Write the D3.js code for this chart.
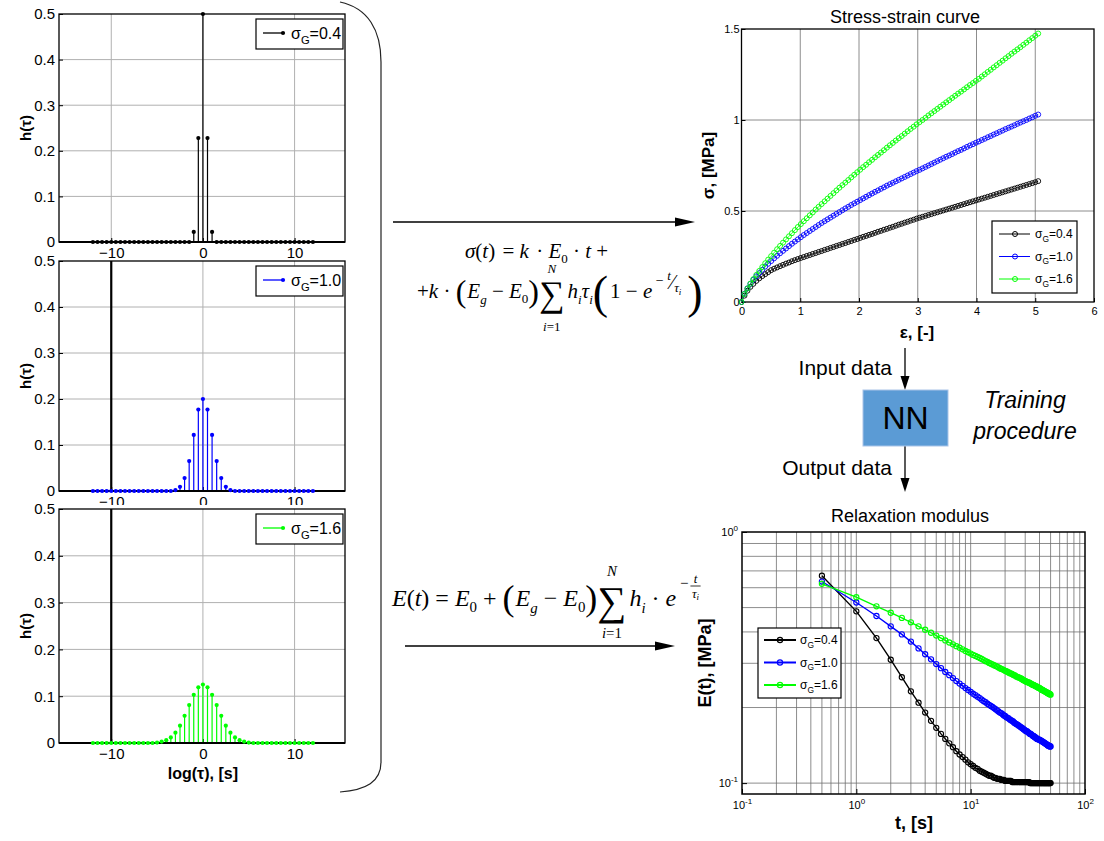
<!DOCTYPE html>
<html>
<head>
<meta charset="utf-8">
<script src="https://cdn.jsdelivr.net/npm/d3@7"></script>
<style>
  body { margin: 0; background: #fff; }
  svg { font-family: Arial, "Liberation Sans", sans-serif; }
</style>
</head>
<body>
<svg id="fig" width="1104" height="841"></svg>
<script>
// ---------- data ----------
// relaxation spectra h(tau) on log(tau) = -12 ... 12, step 0.5
const logTau = d3.range(-12, 12.25, 0.5);
const h04 = [0,0,0,0,0,0,0,0,0,0,0,0,0,0,0,0,0,0,0,0,0,0,
  0.022,0.228,0.5,0.228,0.022,
  0,0,0,0,0,0,0,0,0,0,0,0,0,0,0,0,0,0,0,0,0,0];
const h10 = [0,0,0,0,0,0,0,0,0,0,0,0,0,0,0,0,0,0,
  0.002,0.009,0.028,0.065,0.122,0.177,0.200,0.177,0.122,0.065,0.028,0.009,0.002,
  0,0,0,0,0,0,0,0,0,0,0,0,0,0,0,0,0,0];
const h16 = [0,0,0,0,0,0,0,0,0,0,0,0,0,0,
  0.001,0.003,0.006,0.012,0.022,0.037,0.058,0.081,0.103,0.119,0.125,
  0.119,0.103,0.081,0.058,0.037,0.022,0.012,0.006,0.003,0.001,
  0,0,0,0,0,0,0,0,0,0,0,0,0,0];

const sigmaNames = ["0.4", "1.0", "1.6"];
const seriesColors = ["#000000", "#0000ff", "#00ff00"];

// stress-strain curves, strain 0 ... 5.05
const strain = d3.range(101).map(i => +(i * 0.0505).toFixed(4));
const stress04 = [0,0.035,0.062,0.083,0.100,0.116,0.130,0.142,0.153,0.164,
  0.175,0.183,0.190,0.197,0.204,0.211,0.217,0.224,0.230,0.236,
  0.242,0.247,0.253,0.258,0.264,0.269,0.275,0.280,0.286,0.291,
  0.297,0.302,0.308,0.313,0.319,0.324,0.330,0.335,0.341,0.346,
  0.352,0.358,0.363,0.369,0.374,0.380,0.386,0.391,0.397,0.402,
  0.408,0.413,0.419,0.425,0.430,0.436,0.441,0.447,0.452,0.458,
  0.463,0.468,0.473,0.478,0.483,0.488,0.493,0.498,0.503,0.508,
  0.513,0.518,0.523,0.528,0.533,0.538,0.543,0.548,0.553,0.558,
  0.563,0.568,0.573,0.578,0.583,0.588,0.593,0.598,0.603,0.608,
  0.613,0.618,0.623,0.628,0.633,0.638,0.643,0.648,0.653,0.658,0.664];
const stress10 = [0,0.045,0.075,0.100,0.122,0.141,0.159,0.177,0.195,0.210,
  0.225,0.240,0.254,0.268,0.281,0.294,0.307,0.320,0.332,0.344,
  0.356,0.368,0.379,0.390,0.401,0.412,0.423,0.434,0.444,0.454,
  0.464,0.474,0.484,0.494,0.504,0.514,0.523,0.533,0.542,0.551,
  0.560,0.569,0.578,0.587,0.596,0.605,0.613,0.622,0.630,0.639,
  0.647,0.655,0.663,0.671,0.679,0.687,0.695,0.703,0.711,0.719,
  0.726,0.734,0.742,0.750,0.758,0.766,0.774,0.782,0.790,0.798,
  0.805,0.813,0.821,0.829,0.836,0.844,0.852,0.860,0.867,0.875,
  0.882,0.890,0.897,0.905,0.912,0.920,0.927,0.935,0.942,0.950,
  0.957,0.964,0.971,0.979,0.986,0.993,1.000,1.008,1.015,1.023,1.030];
const stress16 = [0,0.044,0.074,0.101,0.126,0.149,0.171,0.192,0.213,0.233,
  0.252,0.271,0.290,0.308,0.326,0.344,0.361,0.378,0.395,0.412,
  0.428,0.444,0.460,0.476,0.492,0.508,0.523,0.538,0.553,0.568,
  0.583,0.598,0.613,0.628,0.642,0.656,0.670,0.685,0.699,0.713,
  0.727,0.741,0.754,0.768,0.781,0.795,0.808,0.821,0.834,0.848,
  0.861,0.874,0.887,0.900,0.912,0.925,0.938,0.951,0.963,0.976,
  0.988,1.000,1.012,1.025,1.037,1.049,1.061,1.073,1.085,1.097,
  1.109,1.121,1.133,1.145,1.156,1.168,1.180,1.192,1.203,1.215,
  1.226,1.239,1.251,1.264,1.276,1.289,1.301,1.314,1.326,1.339,
  1.351,1.364,1.376,1.388,1.400,1.413,1.425,1.438,1.450,1.463,1.475];

// relaxation modulus, t = 0.5 ... 50 s, step 0.5
const time = d3.range(1, 101).map(i => i * 0.5);
const E04 = [0.670,0.483,0.378,0.310,0.264,0.232,0.209,0.191,0.177,0.166,
  0.157,0.150,0.144,0.139,0.134,0.130,0.127,0.124,0.121,0.119,
  0.117,0.115,0.114,0.112,0.111,0.110,0.109,0.108,0.107,0.107,
  0.106,0.105,0.105,0.104,0.104,0.104,0.103,0.103,0.103,0.102,
  0.102,0.102,0.102,0.102,0.102,0.101,0.101,0.101,0.101,0.101,
  0.101,0.101,0.101,0.101,0.101,0.101,0.101,0.101,0.101,0.101,
  0.101,0.101,0.101,0.101,0.101,0.100,0.100,0.100,0.100,0.100,
  0.100,0.100,0.100,0.100,0.100,0.100,0.100,0.100,0.100,0.100,
  0.100,0.100,0.100,0.100,0.100,0.100,0.100,0.100,0.100,0.100,
  0.100,0.100,0.100,0.100,0.100,0.100,0.100,0.100,0.100,0.100];
const E10 = [0.635,0.524,0.463,0.421,0.391,0.366,0.344,0.326,0.311,0.298,
  0.287,0.277,0.269,0.262,0.255,0.249,0.244,0.239,0.235,0.231,
  0.227,0.224,0.221,0.218,0.215,0.212,0.210,0.207,0.205,0.203,
  0.201,0.199,0.197,0.195,0.193,0.191,0.190,0.188,0.186,0.185,
  0.183,0.182,0.181,0.179,0.178,0.177,0.176,0.174,0.173,0.172,
  0.171,0.170,0.169,0.168,0.167,0.166,0.165,0.164,0.163,0.162,
  0.161,0.161,0.160,0.159,0.158,0.157,0.157,0.156,0.155,0.154,
  0.154,0.153,0.152,0.152,0.151,0.150,0.150,0.149,0.149,0.149,
  0.148,0.148,0.147,0.147,0.146,0.146,0.145,0.145,0.144,0.144,
  0.143,0.143,0.142,0.142,0.141,0.141,0.141,0.140,0.140,0.140];
const E16 = [0.622,0.550,0.506,0.477,0.455,0.437,0.421,0.408,0.397,0.387,
  0.378,0.370,0.363,0.357,0.351,0.346,0.341,0.336,0.332,0.328,
  0.324,0.321,0.318,0.315,0.312,0.309,0.306,0.304,0.301,0.299,
  0.297,0.295,0.293,0.291,0.289,0.287,0.285,0.284,0.282,0.280,
  0.279,0.277,0.276,0.274,0.273,0.272,0.270,0.269,0.268,0.266,
  0.265,0.264,0.263,0.262,0.261,0.260,0.258,0.257,0.256,0.255,
  0.254,0.253,0.252,0.252,0.251,0.250,0.249,0.248,0.247,0.246,
  0.246,0.245,0.244,0.243,0.243,0.242,0.241,0.240,0.240,0.239,
  0.238,0.237,0.236,0.235,0.235,0.234,0.233,0.233,0.232,0.231,
  0.231,0.230,0.229,0.229,0.228,0.227,0.227,0.226,0.226,0.225];

const hTicks = [0, 0.1, 0.2, 0.3, 0.4, 0.5];
const logTauTicks = [-10, 0, 10];

// ---------- drawing ----------
const svg = d3.select("#fig");

function sigmaText(sel, name, size) {
  sel.append("tspan").text("σ");
  sel.append("tspan").attr("font-size", size * 0.7).attr("dy", size * 0.3).text("G");
  sel.append("tspan").attr("dy", -size * 0.3).text("=" + name);
}

// ----- left column: stem plots -----
const stemLeft = 59, stemRight = 345;
const stemX = d3.scaleLinear().domain([-15.7, 15.5]).range([stemLeft, stemRight]);

function stemPanel(values, idx, top, bottom, bgTop, wall, xLabel) {
  const color = seriesColors[idx];
  const g = svg.append("g");
  g.append("rect").attr("x", 0).attr("y", bgTop).attr("width", 352).attr("height", bottom - bgTop + 30).attr("fill", "#fff");
  const y = d3.scaleLinear().domain([0, 0.5]).range([bottom, top]);

  g.selectAll(".gx").data(logTauTicks).join("line")
    .attr("x1", d => stemX(d)).attr("x2", d => stemX(d)).attr("y1", top).attr("y2", bottom)
    .attr("stroke", "#b0b0b0").attr("stroke-width", 1);
  g.selectAll(".gy").data(hTicks.slice(1, 5)).join("line")
    .attr("x1", stemLeft).attr("x2", stemRight).attr("y1", d => y(d)).attr("y2", d => y(d))
    .attr("stroke", "#b0b0b0").attr("stroke-width", 1);

  const ya = g.append("g").attr("transform", `translate(${stemLeft},0)`)
    .call(d3.axisLeft(y).tickValues(hTicks).tickFormat(d => d === 0 ? "0" : d.toFixed(1))
      .tickSizeInner(-4).tickSizeOuter(0).tickPadding(4));
  const xa = g.append("g").attr("transform", `translate(0,${bottom})`)
    .call(d3.axisBottom(stemX).tickValues(logTauTicks).tickSizeInner(-4).tickSizeOuter(0).tickPadding(5));
  [ya, xa].forEach(a => {
    a.select(".domain").remove();
    a.selectAll("text").attr("font-size", 15).attr("fill", "#000").attr("font-family", "Arial, Liberation Sans, sans-serif");
    a.selectAll("line").attr("stroke", "#000");
  });

  g.append("rect").attr("x", stemLeft).attr("y", top).attr("width", stemRight - stemLeft).attr("height", bottom - top)
    .attr("fill", "none").attr("stroke", "#000").attr("stroke-width", 1.3);

  if (wall) {
    g.append("line").attr("x1", stemX(-10)).attr("x2", stemX(-10)).attr("y1", y(0)).attr("y2", y(0.5))
      .attr("stroke", "#000").attr("stroke-width", 2.2);
  }

  const pts = logTau.map((d, i) => ({ x: d, h: values[i] }));
  g.selectAll(".stem").data(pts).join("line")
    .attr("x1", d => stemX(d.x)).attr("x2", d => stemX(d.x)).attr("y1", y(0)).attr("y2", d => y(d.h))
    .attr("stroke", color).attr("stroke-width", 1.2);
  g.append("line").attr("x1", stemLeft).attr("x2", stemRight).attr("y1", y(0)).attr("y2", y(0))
    .attr("stroke", "#000").attr("stroke-width", 2.2);
  g.selectAll(".dot").data(pts).join("circle")
    .attr("cx", d => stemX(d.x)).attr("cy", d => y(d.h)).attr("r", 2.1).attr("fill", color);

  // legend
  const lg = g.append("g").attr("transform", `translate(256,${top + 5})`);
  lg.append("rect").attr("width", 87).attr("height", 30).attr("fill", "#fff").attr("stroke", "#000").attr("stroke-width", 1.2);
  lg.append("line").attr("x1", 7).attr("x2", 27).attr("y1", 14).attr("y2", 14).attr("stroke", color).attr("stroke-width", 1.3);
  lg.append("circle").attr("cx", 27).attr("cy", 14).attr("r", 2.1).attr("fill", color);
  lg.append("text").attr("x", 35).attr("y", 20).attr("font-size", 16).call(sigmaText, sigmaNames[idx], 16);

  g.append("text").attr("transform", `translate(31,${(top + bottom) / 2}) rotate(-90)`)
    .attr("text-anchor", "middle").attr("font-size", 15).attr("font-weight", "bold").text("h(τ)");

  if (xLabel) {
    g.append("text").attr("x", stemX(0)).attr("y", bottom + 36).attr("text-anchor", "middle")
      .attr("font-size", 16).attr("font-weight", "bold").text(xLabel);
  }
}

stemPanel(h04, 0, 14, 242, 0, false, null);
stemPanel(h10, 1, 261, 491, 258, true, null);
stemPanel(h16, 2, 509, 743, 505, true, "log(τ), [s]");

// big bracket
svg.append("path")
  .attr("d", "M340,2 C368,8 381,30 381,62 L381,762 C381,782 366,790 340,792")
  .attr("fill", "none").attr("stroke", "#222").attr("stroke-width", 1.2);

// ----- arrows -----
function arrow(x1, y1, x2, y2, head, w) {
  const g = svg.append("g");
  const ang = Math.atan2(y2 - y1, x2 - x1);
  const bx = x2 - head * Math.cos(ang), by = y2 - head * Math.sin(ang);
  g.append("line").attr("x1", x1).attr("y1", y1).attr("x2", bx).attr("y2", by)
    .attr("stroke", "#000").attr("stroke-width", 1.3);
  const px = -Math.sin(ang) * w, py = Math.cos(ang) * w;
  g.append("path").attr("d", `M${x2},${y2} L${bx + px},${by + py} L${bx - px},${by - py} Z`).attr("fill", "#000");
}
arrow(393, 222, 695, 222, 20, 4.5);
arrow(405, 646, 675, 646, 20, 4.5);
arrow(905, 348, 905, 390, 14, 4.5);
arrow(905, 446, 905, 492, 14, 4.5);

// ----- equations -----
const serif = "'Liberation Serif', 'Times New Roman', serif";
const NB = "\u00a0";
function eqRow(x0, base, fs, parts) {
  const g = svg.append("g").attr("font-family", serif).attr("fill", "#000");
  let x = x0;
  parts.forEach(p => {
    if (p.sum) {
      const t = g.append("text").attr("x", x).attr("y", base + fs * 0.38).attr("font-size", fs * 1.7).text("∑");
      const w = t.node().getComputedTextLength();
      g.append("text").attr("x", x + w / 2).attr("y", base - fs * p.up).attr("text-anchor", "middle")
        .attr("font-size", fs * 0.62).attr("font-style", "italic").text("N");
      const lo = g.append("text").attr("x", x + w / 2).attr("y", base + fs * p.down).attr("text-anchor", "middle").attr("font-size", fs * 0.62);
      lo.append("tspan").attr("font-style", "italic").text("i");
      lo.append("tspan").text("=1");
      x += w + 3;
      return;
    }
    if (p.frac) {
      const top = g.append("text").attr("x", x).attr("y", base - 23).attr("font-size", 13).attr("font-style", "italic").text(p.num);
      const w1 = top.node().getComputedTextLength();
      const bot = g.append("text").attr("x", x).attr("y", base - 8).attr("font-size", 13).attr("font-style", "italic");
      bot.append("tspan").text(p.den);
      bot.append("tspan").attr("font-size", 9).attr("dy", 2).text("i");
      const w2 = bot.node().getComputedTextLength();
      const w = Math.max(w1, w2) + 3;
      top.attr("x", x + (w - w1) / 2);
      bot.attr("x", x + (w - w2) / 2);
      g.append("line").attr("x1", x).attr("x2", x + w).attr("y1", base - 20).attr("y2", base - 20)
        .attr("stroke", "#000").attr("stroke-width", 0.8);
      x += w;
      return;
    }
    const t = g.append("text").attr("x", x + (p.pre || 0)).attr("y", base + (p.dy || 0)).attr("font-size", p.size || fs)
      .attr("font-style", p.it ? "italic" : "normal").text(p.s.replace(/ /g, NB));
    x += (p.pre || 0) + t.node().getComputedTextLength() + (p.gap || 0);
  });
  return x - x0;
}
const sub = (s, f) => ({ s, size: f * 0.62, dy: f * 0.25 });
const isub = (s, f) => ({ s, size: f * 0.62, dy: f * 0.3, it: true });

eqRow(465, 258, 21, [
  { s: "σ", it: true }, { s: "(" }, { s: "t", it: true }, { s: ")", gap: 2 }, { s: " = " }, { s: "k", it: true, gap: 2 }, { s: " · " },
  { s: "E", it: true }, sub("0", 21), { s: " · " }, { s: "t", it: true }, { s: " +" }
]);
eqRow(417, 298, 21, [
  { s: "+" }, { s: "k", it: true }, { s: " · " }, { s: "(", size: 32, dy: 4, gap: 1 }, { s: "E", it: true }, isub("g", 21),
  { s: " − " }, { s: "E", it: true }, sub("0", 21), { s: ")", size: 32, dy: 4 }, { sum: true, up: 1.2, down: 1.55 },
  { s: "h", it: true }, isub("i", 21), { s: "τ", it: true }, isub("i", 21), { s: "(", size: 46, dy: 10, gap: 2 }, { s: "1 − " },
  { s: "e", it: true }, { s: " − ", size: 14, dy: -13 }, { s: "t", it: true, size: 13, dy: -18 },
  { s: "⁄", size: 20, dy: -9 }, { s: "τ", it: true, size: 13, dy: -6 }, { s: "i", it: true, size: 9, dy: -3, gap: 6 },
  { s: ")", size: 46, dy: 10 }
]);
eqRow(392, 606, 24, [
  { s: "E", it: true }, { s: "(" }, { s: "t", it: true }, { s: ")" }, { s: " = " }, { s: "E", it: true }, sub("0", 24), { s: " + " },
  { s: "(", size: 36, dy: 4, gap: 1 }, { s: "E", it: true }, isub("g", 24), { s: " − " }, { s: "E", it: true }, sub("0", 24),
  { s: ")", size: 36, dy: 4 }, { sum: true, up: 1.24, down: 1.35 }, { s: "h", it: true }, isub("i", 24), { s: " · " },
  { s: "e", it: true }, { s: " −", size: 15, dy: -18, gap: 2 }, { frac: true, num: "t", den: "τ" }
]);

// ----- stress-strain plot -----
const sL = 741.5, sR = 1094, sT = 29, sB = 302;
const sx = d3.scaleLinear().domain([0, 6]).range([sL, sR]);
const sy = d3.scaleLinear().domain([0, 1.5]).range([sB, sT]);
const sg = svg.append("g");
sg.selectAll(".gx").data([1, 2, 3, 4, 5]).join("line")
  .attr("x1", d => sx(d)).attr("x2", d => sx(d)).attr("y1", sT).attr("y2", sB).attr("stroke", "#707070").attr("stroke-width", 0.8);
sg.selectAll(".gy").data([0.5, 1]).join("line")
  .attr("x1", sL).attr("x2", sR).attr("y1", d => sy(d)).attr("y2", d => sy(d)).attr("stroke", "#707070").attr("stroke-width", 0.8);
const sxa = sg.append("g").attr("transform", `translate(0,${sB})`)
  .call(d3.axisBottom(sx).tickValues([0, 1, 2, 3, 4, 5, 6]).tickFormat(d3.format("d")).tickSizeInner(-4).tickSizeOuter(0).tickPadding(5));
const sya = sg.append("g").attr("transform", `translate(${sL},0)`)
  .call(d3.axisLeft(sy).tickValues([0, 0.5, 1, 1.5]).tickFormat(d3.format("~g")).tickSizeInner(-4).tickSizeOuter(0).tickPadding(2));
[sxa, sya].forEach(a => {
  a.select(".domain").remove();
  a.selectAll("text").attr("font-size", 11).attr("fill", "#000");
  a.selectAll("line").attr("stroke", "#000");
});
sg.append("rect").attr("x", sL).attr("y", sT).attr("width", sR - sL).attr("height", sB - sT)
  .attr("fill", "none").attr("stroke", "#000").attr("stroke-width", 1.3);

const stressSeries = [stress04, stress10, stress16];
stressSeries.forEach((vals, k) => {
  const pts = strain.map((e, i) => [e, vals[i]]);
  sg.append("path").datum(pts).attr("fill", "none").attr("stroke", seriesColors[k]).attr("stroke-width", 0.8)
    .attr("d", d3.line().x(d => sx(d[0])).y(d => sy(d[1])));
  sg.append("g").selectAll("circle").data(pts).join("circle")
    .attr("cx", d => sx(d[0])).attr("cy", d => sy(d[1])).attr("r", 2.5)
    .attr("fill", "none").attr("stroke", seriesColors[k]).attr("stroke-width", 0.9);
});
sg.append("text").attr("x", 905).attr("y", 23).attr("text-anchor", "middle").attr("font-size", 18).text("Stress-strain curve");
sg.append("text").attr("x", 917).attr("y", 338).attr("text-anchor", "middle").attr("font-size", 17).attr("font-weight", "bold").text("ε, [-]");
sg.append("text").attr("transform", `translate(714,${(sT + sB) / 2}) rotate(-90)`).attr("text-anchor", "middle")
  .attr("font-size", 17).attr("font-weight", "bold").text("σ, [MPa]");

const sLeg = sg.append("g").attr("transform", "translate(992,221)");
sLeg.append("rect").attr("width", 85).attr("height", 72).attr("fill", "#fff").attr("stroke", "#000").attr("stroke-width", 1.2);
sigmaNames.forEach((n, k) => {
  const yy = 13 + k * 22.5;
  sLeg.append("line").attr("x1", 7).attr("x2", 38).attr("y1", yy).attr("y2", yy).attr("stroke", seriesColors[k]).attr("stroke-width", 1);
  sLeg.append("circle").attr("cx", 23).attr("cy", yy).attr("r", 2.5).attr("fill", "none").attr("stroke", seriesColors[k]);
  sLeg.append("text").attr("x", 43).attr("y", yy + 4).attr("font-size", 12).call(sigmaText, n, 12);
});

// ----- NN block -----
svg.append("rect").attr("x", 863).attr("y", 390).attr("width", 85).attr("height", 56)
  .attr("fill", "#5b9bd5").attr("stroke", "#a9c4e8").attr("stroke-width", 1);
svg.append("text").attr("x", 905.5).attr("y", 429).attr("text-anchor", "middle").attr("font-size", 32).text("NN");
svg.append("text").attr("x", 892).attr("y", 375).attr("text-anchor", "end").attr("font-size", 21).text("Input data");
svg.append("text").attr("x", 892).attr("y", 475).attr("text-anchor", "end").attr("font-size", 21).text("Output data");
svg.append("text").attr("x", 1025).attr("y", 408).attr("text-anchor", "middle").attr("font-size", 23).attr("font-style", "italic").text("Training");
svg.append("text").attr("x", 1025).attr("y", 439).attr("text-anchor", "middle").attr("font-size", 23).attr("font-style", "italic").text("procedure");

// ----- relaxation modulus plot -----
const rL = 742, rR = 1085, rT = 532, rB = 794;
const rx = d3.scaleLog().domain([0.1, 100]).range([rL, rR]);
const ry = d3.scaleLog().domain([0.0905, 1]).range([rB, rT]);
const rg = svg.append("g");
const xGrid = [0.2, 0.3, 0.4, 0.5, 0.6, 0.7, 0.8, 0.9, 1, 2, 3, 4, 5, 6, 7, 8, 9, 10, 20, 30, 40, 50, 60, 70, 80, 90];
const yGrid = [0.1, 0.2, 0.3, 0.4, 0.5, 0.6, 0.7, 0.8, 0.9];
rg.selectAll(".gx").data(xGrid).join("line")
  .attr("x1", d => rx(d)).attr("x2", d => rx(d)).attr("y1", rT).attr("y2", rB).attr("stroke", "#707070").attr("stroke-width", 0.8);
rg.selectAll(".gy").data(yGrid).join("line")
  .attr("x1", rL).attr("x2", rR).attr("y1", d => ry(d)).attr("y2", d => ry(d)).attr("stroke", "#707070").attr("stroke-width", 0.8);
const rxa = rg.append("g").attr("transform", `translate(0,${rB})`)
  .call(d3.axisBottom(rx).tickValues([0.1, 1, 10, 100]).tickSizeInner(-5).tickSizeOuter(0).tickPadding(7));
const rya = rg.append("g").attr("transform", `translate(${rL},0)`)
  .call(d3.axisLeft(ry).tickValues([0.1, 1]).tickSizeInner(-5).tickSizeOuter(0).tickPadding(4));
[rxa, rya].forEach(a => {
  a.select(".domain").remove();
  a.selectAll("line").attr("stroke", "#000");
  a.selectAll("text").attr("font-size", 11).attr("fill", "#000").each(function (d) {
    const t = d3.select(this);
    t.text("10");
    t.append("tspan").attr("font-size", 8).attr("dy", -5).text(Math.round(Math.log10(d)) === 0 ? "0" : Math.round(Math.log10(d)));
  });
});
rg.append("rect").attr("x", rL).attr("y", rT).attr("width", rR - rL).attr("height", rB - rT)
  .attr("fill", "none").attr("stroke", "#000").attr("stroke-width", 1.5);

const relaxSeries = [E04, E10, E16];
relaxSeries.forEach((vals, k) => {
  const pts = time.map((t, i) => [t, vals[i]]);
  rg.append("path").datum(pts).attr("fill", "none").attr("stroke", seriesColors[k]).attr("stroke-width", 1.4)
    .attr("d", d3.line().x(d => rx(d[0])).y(d => ry(d[1])));
  rg.append("g").selectAll("circle").data(pts).join("circle")
    .attr("cx", d => rx(d[0])).attr("cy", d => ry(d[1])).attr("r", 2.6)
    .attr("fill", "none").attr("stroke", seriesColors[k]).attr("stroke-width", 1.1);
});
rg.append("text").attr("x", 910).attr("y", 522).attr("text-anchor", "middle").attr("font-size", 18).text("Relaxation modulus");
rg.append("text").attr("x", 914).attr("y", 829).attr("text-anchor", "middle").attr("font-size", 18).attr("font-weight", "bold").text("t, [s]");
rg.append("text").attr("transform", `translate(711,${(rT + rB) / 2}) rotate(-90)`).attr("text-anchor", "middle")
  .attr("font-size", 18).attr("font-weight", "bold").text("E(t), [MPa]");

const rLeg = rg.append("g").attr("transform", "translate(758,628)");
rLeg.append("rect").attr("width", 83).attr("height", 70).attr("fill", "#fff").attr("stroke", "#000").attr("stroke-width", 1.2);
sigmaNames.forEach((n, k) => {
  const yy = 12 + k * 22.5;
  rLeg.append("line").attr("x1", 6).attr("x2", 38).attr("y1", yy).attr("y2", yy).attr("stroke", seriesColors[k]).attr("stroke-width", 2);
  rLeg.append("circle").attr("cx", 22).attr("cy", yy).attr("r", 2.6).attr("fill", "none").attr("stroke", seriesColors[k]).attr("stroke-width", 1.2);
  rLeg.append("text").attr("x", 42).attr("y", yy + 4).attr("font-size", 12).call(sigmaText, n, 12);
});
</script>
</body>
</html>
